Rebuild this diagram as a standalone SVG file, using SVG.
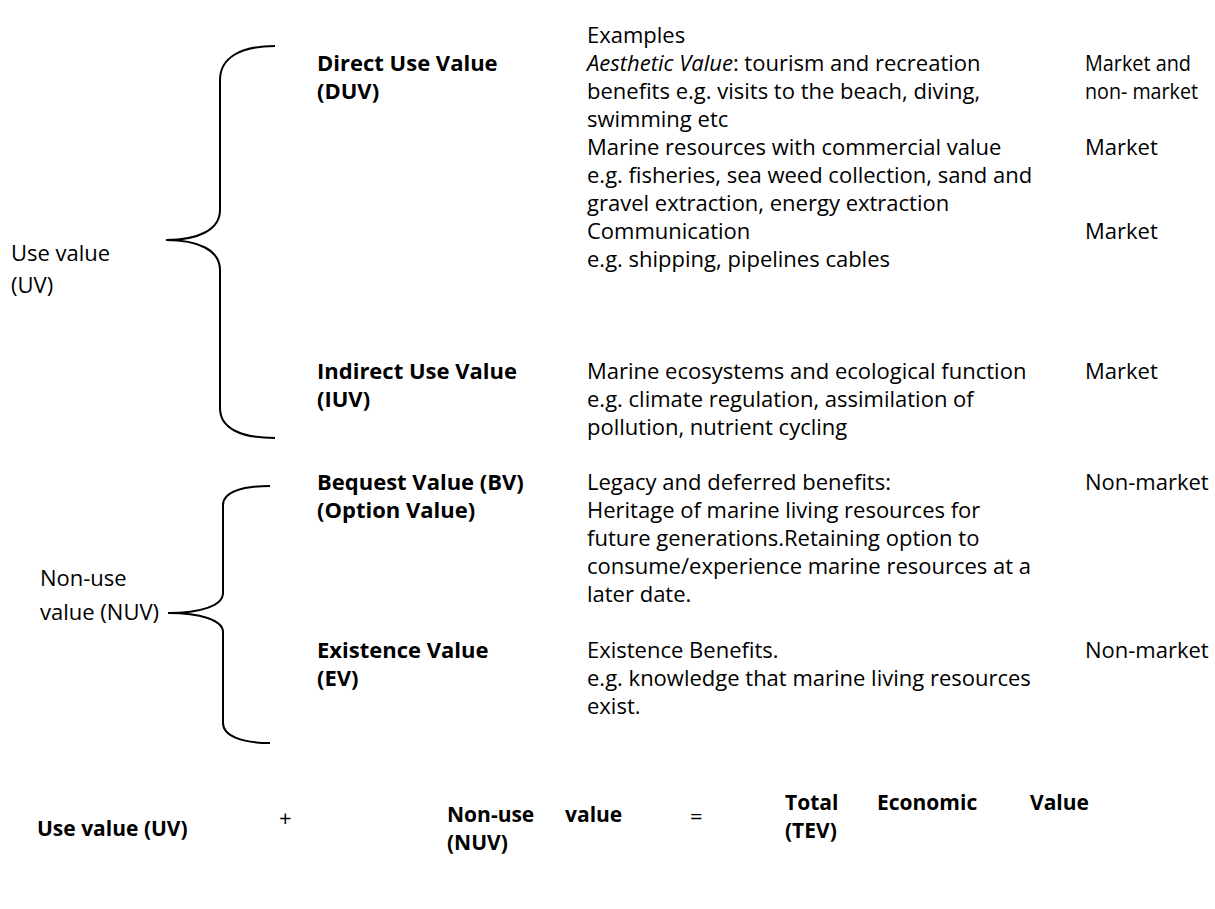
<svg xmlns="http://www.w3.org/2000/svg" width="1215" height="909" viewBox="0 0 1215 909">
  <style>
    text { font-family: "Open Sans", "Liberation Sans", sans-serif; font-size: 22px; fill: #000; }
    .b { font-weight: bold; }
    .i { font-style: italic; }
    .sum { font-size: 21px; }
    .brace { fill: none; stroke: #000; stroke-width: 2; }
  </style>
  <rect width="1215" height="909" fill="#fff"/>

  <!-- braces grouping the value categories -->
  <g id="connectors">
    <path class="brace" d="M275 46 C240 46 220 58 220 80 L220 210 C220 230 198 240 166 240 C198 240 220 250 220 270 L220 408 C220 428 240 438 275 438"/>
    <path class="brace" d="M270 486 C242 486 223 492 223 505 L223 593 C223 606 200 613 168 613 C200 613 223 620 223 632 L223 723 C223 736 242 743 270 743"/>
  </g>

  <g id="use-value">
    <text x="11" y="261">Use value</text>
    <text x="11" y="293">(UV)</text>
  </g>
  <g id="non-use-value">
    <text x="40" y="586">Non-use</text>
    <text x="40" y="620">value (NUV)</text>
  </g>

  <g id="examples-heading">
    <text x="587" y="43">Examples</text>
  </g>

  <g id="direct-use-value">
    <text class="b" x="317" y="71">Direct Use Value</text>
    <text class="b" x="317" y="99">(DUV)</text>
    <text x="587" y="71"><tspan class="i">Aesthetic Value</tspan>: tourism and recreation</text>
    <text x="587" y="99">benefits e.g. visits to the beach, diving,</text>
    <text x="587" y="127">swimming etc</text>
    <text x="1085" y="71" textLength="106" lengthAdjust="spacingAndGlyphs">Market and</text>
    <text x="1085" y="99" textLength="113" lengthAdjust="spacingAndGlyphs">non- market</text>
    <text x="587" y="155">Marine resources with commercial value</text>
    <text x="587" y="183">e.g. fisheries, sea weed collection, sand and</text>
    <text x="587" y="211">gravel extraction, energy extraction</text>
    <text x="1085" y="155">Market</text>
    <text x="587" y="239">Communication</text>
    <text x="587" y="267">e.g. shipping, pipelines cables</text>
    <text x="1085" y="239">Market</text>
  </g>

  <g id="indirect-use-value">
    <text class="b" x="317" y="379">Indirect Use Value</text>
    <text class="b" x="317" y="407">(IUV)</text>
    <text x="587" y="379">Marine ecosystems and ecological function</text>
    <text x="587" y="407">e.g. climate regulation, assimilation of</text>
    <text x="587" y="435">pollution, nutrient cycling</text>
    <text x="1085" y="379">Market</text>
  </g>

  <g id="bequest-value">
    <text class="b" x="317" y="490">Bequest Value (BV)</text>
    <text class="b" x="317" y="518">(Option Value)</text>
    <text x="587" y="490">Legacy and deferred benefits:</text>
    <text x="587" y="518">Heritage of marine living resources for</text>
    <text x="587" y="546">future generations.Retaining option to</text>
    <text x="587" y="574">consume/experience marine resources at a</text>
    <text x="587" y="602">later date.</text>
    <text x="1085" y="490">Non-market</text>
  </g>

  <g id="existence-value">
    <text class="b" x="317" y="658">Existence Value</text>
    <text class="b" x="317" y="686">(EV)</text>
    <text x="587" y="658">Existence Benefits.</text>
    <text x="587" y="686">e.g. knowledge that marine living resources</text>
    <text x="587" y="714">exist.</text>
    <text x="1085" y="658">Non-market</text>
  </g>

  <g id="total-economic-value">
    <text class="b sum" x="37" y="836">Use value (UV)</text>
    <text x="279" y="826">+</text>
    <text class="b sum" x="447" y="822">Non-use</text>
    <text class="b sum" x="565" y="822">value</text>
    <text class="b sum" x="447" y="850">(NUV)</text>
    <text x="690" y="824">=</text>
    <text class="b sum" x="785" y="810">Total</text>
    <text class="b sum" x="877" y="810">Economic</text>
    <text class="b sum" x="1030" y="810">Value</text>
    <text class="b sum" x="785" y="838">(TEV)</text>
  </g>
</svg>
